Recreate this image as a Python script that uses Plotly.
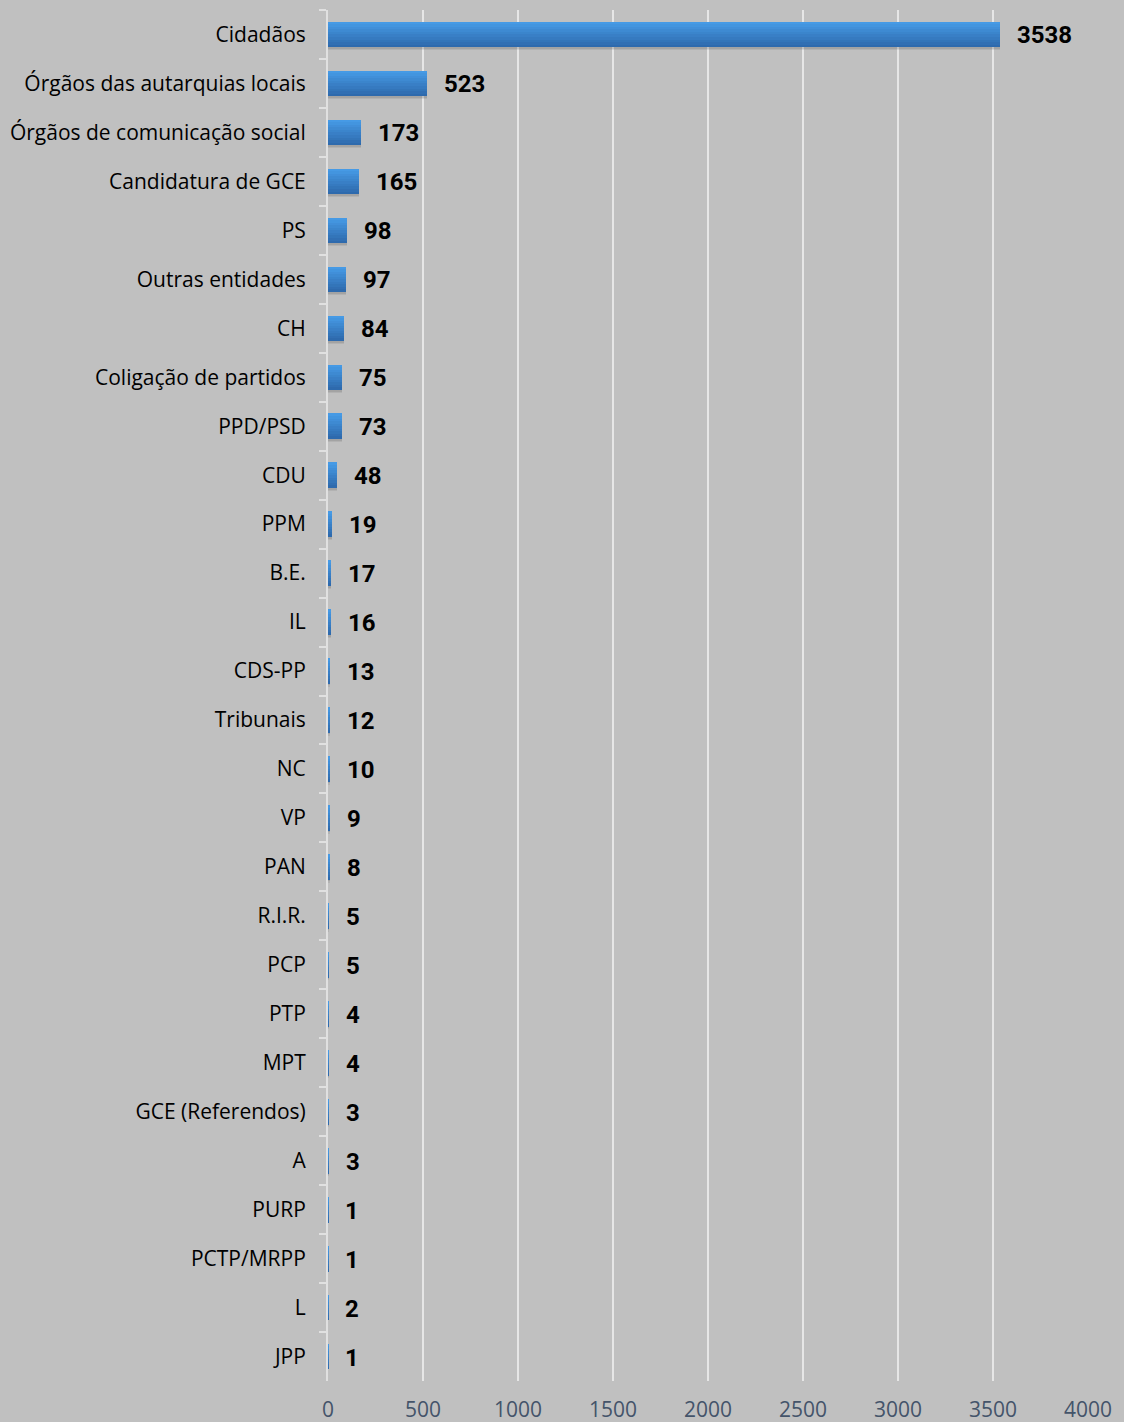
import plotly.graph_objects as go

categories = ["Cidadãos", "Órgãos das autarquias locais", "Órgãos de comunicação social",
              "Candidatura de GCE", "PS", "Outras entidades", "CH", "Coligação de partidos",
              "PPD/PSD", "CDU", "PPM", "B.E.", "IL", "CDS-PP", "Tribunais", "NC", "VP", "PAN",
              "R.I.R.", "PCP", "PTP", "MPT", "GCE (Referendos)", "A", "PURP", "PCTP/MRPP", "L", "JPP"]
values = [3538, 523, 173, 165, 98, 97, 84, 75, 73, 48, 19, 17, 16, 13, 12, 10, 9, 8,
          5, 5, 4, 4, 3, 3, 1, 1, 2, 1]
x_ticks = [0, 500, 1000, 1500, 2000, 2500, 3000, 3500, 4000]

BAR_W = 0.52
N = 10
top_rgb = (0x46, 0x9A, 0xE5)
bot_rgb = (0x2E, 0x6A, 0xAD)

fig = go.Figure()

# soft shadow
for dy, a in [(0.06, 0.10), (0.035, 0.12)]:
    fig.add_trace(go.Bar(
        y=categories, x=values, orientation="h",
        offset=-BAR_W / 2 + dy, width=BAR_W,
        marker=dict(color=f"rgba(60,60,60,{a})", line=dict(width=0)),
        hoverinfo="skip", showlegend=False))

# gradient slices
for k in range(N):
    t = k / (N - 1)
    c = tuple(int(round(top_rgb[i] + (bot_rgb[i] - top_rgb[i]) * t)) for i in range(3))
    fig.add_trace(go.Bar(
        y=categories, x=values, orientation="h",
        offset=-BAR_W / 2 + k * BAR_W / N, width=BAR_W / N + 0.004,
        marker=dict(color=f"rgb{c}", line=dict(width=0)),
        hoverinfo="skip", showlegend=False))

for cat, v in zip(categories, values):
    fig.add_annotation(x=v, y=cat, text=str(v), showarrow=False,
                       xanchor="left", yanchor="middle", xshift=15, yshift=-1,
                       font=dict(family="Roboto", size=24, color="#000000", weight="bold"))

fig.update_layout(
    width=1124, height=1422,
    paper_bgcolor="#C0C0C0", plot_bgcolor="#C0C0C0",
    margin=dict(l=328, r=36, t=10, b=41),
    barmode="overlay", bargap=0,
    showlegend=False,
    font=dict(family="Open Sans", color="#000000"),
)
fig.update_xaxes(range=[0, 4000], tickvals=x_ticks, ticktext=[str(t) for t in x_ticks],
                 showgrid=True, gridcolor="#E6E6E6", gridwidth=2, zeroline=False,
                 showline=False, ticks="", ticklabelstandoff=14, automargin=False,
                 tickfont=dict(family="Open Sans", size=21, color="#44546A"))
fig.update_yaxes(autorange="reversed", type="category", automargin=False,
                 showline=True, linecolor="#E0E0E0", linewidth=2,
                 ticks="outside", tickson="boundaries", ticklen=7, tickcolor="#E0E0E0", tickwidth=2,
                 showgrid=False, ticklabelstandoff=16,
                 tickfont=dict(family="Open Sans", size=21, color="#000000"))

fig.write_html("out.html", config={"displayModeBar": False},
               post_script="document.body.style.margin='0';document.body.style.background='#C0C0C0';")
